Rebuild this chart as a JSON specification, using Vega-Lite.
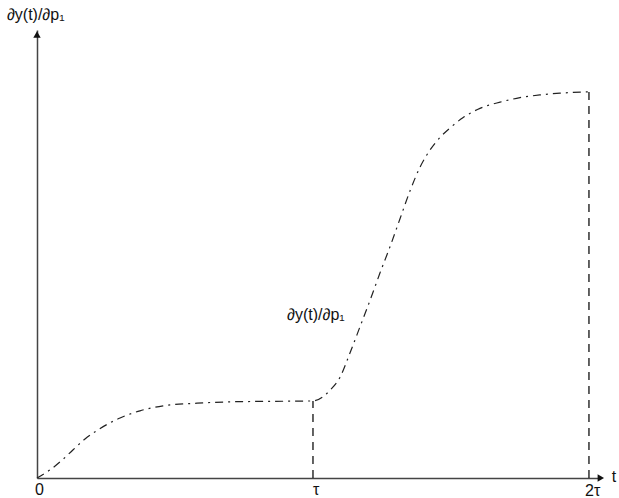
{
  "$schema": "https://vega.github.io/schema/vega-lite/v6.json",
  "autosize": {"type": "none"},
  "padding": {"left": 37, "top": 30, "right": 19, "bottom": 20},
  "width": 563,
  "height": 448,
  "background": "white",
  "config": {
    "view": {"stroke": null},
    "font": "Liberation Sans",
    "axis": {"grid": false, "ticks": false, "labels": false, "title": null, "domainColor": "#444", "domainWidth": 1.5}
  },
  "datasets": {
    "curve": [
      {"t": 0.0, "v": 0.0},
      {"t": 0.047, "v": 0.018},
      {"t": 0.091, "v": 0.040},
      {"t": 0.130, "v": 0.0625},
      {"t": 0.174, "v": 0.087},
      {"t": 0.217, "v": 0.106},
      {"t": 0.264, "v": 0.123},
      {"t": 0.301, "v": 0.134},
      {"t": 0.373, "v": 0.150},
      {"t": 0.457, "v": 0.161},
      {"t": 0.580, "v": 0.167},
      {"t": 0.699, "v": 0.170},
      {"t": 0.819, "v": 0.171},
      {"t": 1.0, "v": 0.172},
      {"t": 1.062, "v": 0.196},
      {"t": 1.098, "v": 0.225},
      {"t": 1.134, "v": 0.279},
      {"t": 1.170, "v": 0.337},
      {"t": 1.207, "v": 0.397},
      {"t": 1.243, "v": 0.458},
      {"t": 1.279, "v": 0.516},
      {"t": 1.315, "v": 0.578},
      {"t": 1.351, "v": 0.640},
      {"t": 1.388, "v": 0.694},
      {"t": 1.424, "v": 0.732},
      {"t": 1.460, "v": 0.760},
      {"t": 1.496, "v": 0.781},
      {"t": 1.543, "v": 0.804},
      {"t": 1.605, "v": 0.825},
      {"t": 1.678, "v": 0.839},
      {"t": 1.750, "v": 0.849},
      {"t": 1.822, "v": 0.855},
      {"t": 1.895, "v": 0.859},
      {"t": 2.0, "v": 0.862}
    ],
    "vlines": [
      {"t": 1.0, "v0": 0, "v1": 0.172},
      {"t": 2.0, "v0": 0, "v1": 0.862}
    ],
    "labels": [
      {"t": -0.007, "v": -0.038, "label": "0"},
      {"t": 1.0, "v": -0.038, "label": "τ"},
      {"t": 1.986, "v": -0.040, "label": "2τ"},
      {"t": 2.083, "v": -0.009, "label": "t"},
      {"t": -0.109, "v": 1.022, "label": "∂y(t)/∂p₁"},
      {"t": 0.906, "v": 0.353, "label": "∂y(t)/∂p₁"}
    ],
    "arrows": [
      {"t": 0, "v": 0.99, "shape": "triangle-up"},
      {"t": 2.043, "v": 0, "shape": "triangle-right"}
    ]
  },
  "layer": [
    {
      "data": {"name": "vlines"},
      "mark": {"type": "rule", "color": "#111", "strokeWidth": 1.3, "strokeDash": [8, 6]},
      "encoding": {
        "x": {"field": "t", "type": "quantitative", "scale": {"domain": [0, 2.04], "nice": false, "zero": false}, "axis": {"orient": "bottom"}},
        "y": {"field": "v0", "type": "quantitative", "scale": {"domain": [0, 1], "nice": false, "zero": false}, "axis": {"orient": "left"}},
        "y2": {"field": "v1"}
      }
    },
    {
      "data": {"name": "curve"},
      "mark": {"type": "line", "color": "#222", "strokeWidth": 1.2, "strokeDash": [8, 5, 2, 5], "interpolate": "monotone"},
      "encoding": {
        "x": {"field": "t", "type": "quantitative"},
        "y": {"field": "v", "type": "quantitative"}
      }
    },
    {
      "data": {"name": "arrows"},
      "mark": {"type": "point", "filled": true, "color": "#111", "size": 55, "opacity": 1},
      "encoding": {
        "x": {"field": "t", "type": "quantitative"},
        "y": {"field": "v", "type": "quantitative"},
        "shape": {"field": "shape", "type": "nominal", "scale": null}
      }
    },
    {
      "data": {"name": "labels"},
      "mark": {"type": "text", "align": "left", "baseline": "alphabetic", "fontSize": 16, "color": "#111"},
      "encoding": {
        "x": {"field": "t", "type": "quantitative"},
        "y": {"field": "v", "type": "quantitative"},
        "text": {"field": "label"}
      }
    }
  ]
}
